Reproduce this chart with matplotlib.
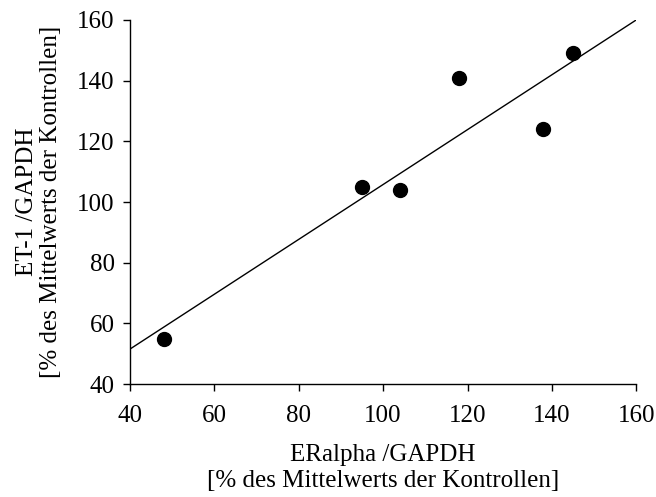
import numpy as np
import matplotlib.pyplot as plt

plt.rcParams['font.family'] = ['Liberation Serif', 'DejaVu Serif']

# ERalpha/GAPDH vs ET-1/GAPDH, % of control mean
eralpha = [48, 95, 104, 118, 138, 145]
et1 = [55, 105, 104, 141, 124, 149]

xticks = [40, 60, 80, 100, 120, 140, 160]
yticks = [40, 60, 80, 100, 120, 140, 160]

fig = plt.figure(figsize=(6.56, 4.97), dpi=100)
ax = fig.add_axes([0.198, 0.227, 0.772, 0.733])

# linear regression line across the full x range
m, b = np.polyfit(eralpha, et1, 1)
xl = np.array([xticks[0], xticks[-1]])
ax.plot(xl, m*xl + b, color='black', linewidth=1.0, zorder=2)

ax.scatter(eralpha, et1, s=100, color='black', zorder=3)

ax.set_xlim(xticks[0], xticks[-1])
ax.set_ylim(yticks[0], yticks[-1])
ax.set_xticks(xticks)
ax.set_yticks(yticks)
ax.spines['top'].set_visible(False)
ax.spines['right'].set_visible(False)
ax.spines['left'].set_linewidth(1.0)
ax.spines['bottom'].set_linewidth(1.0)
ax.tick_params(direction='out', length=5, width=1.0, labelsize=18)
ax.tick_params(axis='x', pad=10)
ax.tick_params(axis='y', pad=6)

ax.set_xlabel('ERalpha /GAPDH\n[% des Mittelwerts der Kontrollen]', fontsize=18,
              labelpad=12, linespacing=1.25)
ax.set_ylabel('ET-1 /GAPDH\n[% des Mittelwerts der Kontrollen]', fontsize=18,
              labelpad=11, linespacing=1.1)

fig.savefig('out.png', dpi=100)
